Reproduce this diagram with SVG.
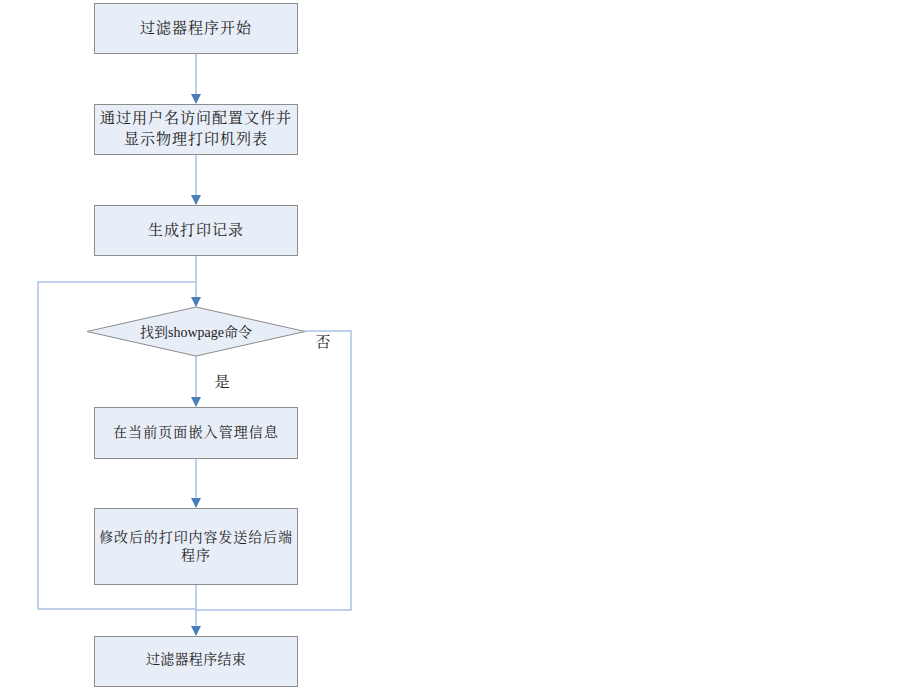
<svg xmlns="http://www.w3.org/2000/svg" width="900" height="689" viewBox="0 0 900 689">
<defs>
<style>
.box{fill:#e8eef7;stroke:#8c8c8c;stroke-width:1}
.t{font-family:"Liberation Serif","Noto Serif CJK SC","Noto Sans CJK SC",serif;font-size:15px;fill:#222;text-anchor:middle;dominant-baseline:central}
.s{font-size:14px}
.ln{fill:none;stroke:#a9c1e3;stroke-width:1.5}
</style>
<marker id="ah" markerWidth="10" markerHeight="10" refX="9" refY="5" orient="auto" markerUnits="userSpaceOnUse">
<path d="M0,0 L10,5 L0,10 Z" fill="#4a7ebb"/>
</marker>
</defs>
<rect width="900" height="689" fill="#fff"/>
<g id="connectors">
<line class="ln" x1="196" y1="53" x2="196" y2="103" marker-end="url(#ah)"/>
<line class="ln" x1="196" y1="154" x2="196" y2="204" marker-end="url(#ah)"/>
<line class="ln" x1="196" y1="255" x2="196" y2="306" marker-end="url(#ah)"/>
<polyline class="ln" points="196,282 38,282 38,609 196,609"/>
<polyline class="ln" points="305,331 351,331 351,610 196,610"/>
<line class="ln" x1="196" y1="356" x2="196" y2="406" marker-end="url(#ah)"/>
<line class="ln" x1="196" y1="458" x2="196" y2="507" marker-end="url(#ah)"/>
<line class="ln" x1="196" y1="584" x2="196" y2="635" marker-end="url(#ah)"/>
<text class="t" x="323" y="342">否</text>
<text class="t" x="222" y="382">是</text>
</g>
<g id="n1"><rect class="box" x="94.5" y="3.5" width="203" height="50"/><text class="t" x="196" y="28" letter-spacing="1">过滤器程序开始</text></g>
<g id="n2"><rect class="box" x="94.5" y="104.5" width="203" height="50"/><text class="t" x="196" y="118" letter-spacing="1">通过用户名访问配置文件并</text><text class="t" x="196" y="139" letter-spacing="1">显示物理打印机列表</text></g>
<g id="n3"><rect class="box" x="94.5" y="205.5" width="203" height="50"/><text class="t" x="196" y="230" letter-spacing="1">生成打印记录</text></g>
<g id="n4"><polygon class="box" points="196,307 305,331.5 196,356 87,331.5"/><text class="t s" x="196" y="332">找到showpage命令</text></g>
<g id="n5"><rect class="box" x="94.5" y="407.5" width="203" height="51"/><text class="t s" x="196" y="432" letter-spacing="1.1">在当前页面嵌入管理信息</text></g>
<g id="n6"><rect class="box" x="94.5" y="508.5" width="203" height="76"/><text class="t s" x="196" y="537" letter-spacing="0.9">修改后的打印内容发送给后端</text><text class="t s" x="196" y="555" letter-spacing="0.9">程序</text></g>
<g id="n7"><rect class="box" x="94.5" y="636.5" width="203" height="50"/><text class="t s" x="196" y="659" letter-spacing="0.3">过滤器程序结束</text></g>
</svg>
